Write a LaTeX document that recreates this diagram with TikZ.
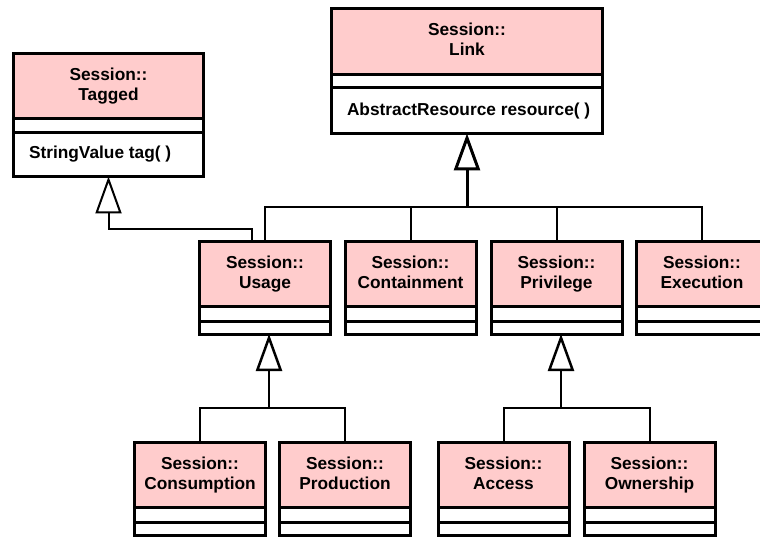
\documentclass[tikz,border=0pt]{standalone}
\usepackage{fontspec}
\setmainfont{Liberation Sans}
\usepackage{tikz}
\usetikzlibrary{arrows.meta,positioning}
\definecolor{classpink}{RGB}{255,204,204}

\begin{document}
\begin{tikzpicture}[x=1pt, y=-1pt, line width=3pt,
    classfont/.style={font=\fontsize{17.3}{20}\selectfont\bfseries},
    classname/.style={draw, fill=classpink, classfont, outer sep=0pt, inner sep=0pt, minimum width=131pt, minimum height=65pt, align=center},
    classpart/.style={draw, fill=white, classfont, outer sep=0pt, inner sep=0pt, minimum width=131pt},
    conn/.style={line width=2pt},
    gen/.style={line width=2.5pt, -{Triangle[open, length=37pt, width=26pt]}}]
    \useasboundingbox (0,0) rectangle (760,537);
    \clip (0,0) rectangle (760,537);

    % Classe Tagged
    \node[classname, minimum width=190pt] (tag) at (108.5,86.5) {\strut Session::\\\strut Tagged};
    \node[classpart, minimum width=190pt, minimum height=13.5pt, below=0pt of tag] (tagA) {};
    \node[classpart, minimum height=44pt, inner xsep=15.5pt, below=0pt of tagA] (tagO) {\makebox[159pt][l]{StringValue tag( )}};

    % Classe Link
    \node[classname, minimum width=271pt, minimum height=66.5pt] (link) at (467,41.75) {\strut Session::\\\strut Link};
    \node[classpart, minimum width=271pt, minimum height=13pt, below=0pt of link] (linkA) {};
    \node[classpart, minimum height=45.5pt, inner xsep=15.5pt, below=0pt of linkA] (linkO) {\makebox[240pt][l]{AbstractResource resource( )}};

    % Sottoclassi di Link
    \node[classname] (usage) at (265,274) {\strut Session::\\\strut Usage};
    \node[classpart, minimum height=14.5pt, below=0pt of usage] (usageA) {};
    \node[classpart, minimum height=13pt, below=0pt of usageA] (usageO) {};

    \node[classname] (cont) at (410.5,274) {\strut Session::\\\strut Containment};
    \node[classpart, minimum height=14.5pt, below=0pt of cont] (contA) {};
    \node[classpart, minimum height=13pt, below=0pt of contA] (contO) {};

    \node[classname] (priv) at (556.5,274) {\strut Session::\\\strut Privilege};
    \node[classpart, minimum height=14.5pt, below=0pt of priv] (privA) {};
    \node[classpart, minimum height=13pt, below=0pt of privA] (privO) {};

    \node[classname] (exec) at (702,274) {\strut Session::\\\strut Execution};
    \node[classpart, minimum height=14.5pt, below=0pt of exec] (execA) {};
    \node[classpart, minimum height=13pt, below=0pt of execA] (execO) {};

    % Sottoclassi di Usage
    \node[classname] (cons) at (200,475) {\strut Session::\\\strut Consumption};
    \node[classpart, minimum height=14.5pt, below=0pt of cons] (consA) {};
    \node[classpart, minimum height=13pt, below=0pt of consA] (consO) {};

    \node[classname] (prod) at (345,475) {\strut Session::\\\strut Production};
    \node[classpart, minimum height=14.5pt, below=0pt of prod] (prodA) {};
    \node[classpart, minimum height=13pt, below=0pt of prodA] (prodO) {};

    % Sottoclassi di Privilege
    \node[classname] (acc) at (503.5,475) {\strut Session::\\\strut Access};
    \node[classpart, minimum height=14.5pt, below=0pt of acc] (accA) {};
    \node[classpart, minimum height=13pt, below=0pt of accA] (accO) {};

    \node[classname] (own) at (649.5,475) {\strut Session::\\\strut Ownership};
    \node[classpart, minimum height=14.5pt, below=0pt of own] (ownA) {};
    \node[classpart, minimum height=13pt, below=0pt of ownA] (ownO) {};

    % Generalizzazione verso Link
    \coordinate (linkbus) at (467,207);
    \draw[conn] (usage.north) |- (linkbus) -| (exec.north);
    \draw[conn] (cont.north) -- (cont.north |- linkbus);
    \draw[conn] (priv.north) -- (priv.north |- linkbus);
    \draw[gen, line width=3pt] (linkbus) -- (linkO.south);

    % Generalizzazione verso Tagged
    \draw[gen, line width=2pt] ([xshift=-13pt]usage.north) -- ++(0,-12) -| (tagO.south);

    % Generalizzazione verso Usage
    \coordinate (usebus) at (269,408);
    \draw[conn] (cons.north) |- (usebus) -| (prod.north);
    \draw[gen] (usebus) -- (usebus |- usageO.south);

    % Generalizzazione verso Privilege
    \coordinate (privbus) at (561,408);
    \draw[conn] (acc.north) |- (privbus) -| (own.north);
    \draw[gen] (privbus) -- (privbus |- privO.south);
\end{tikzpicture}
\end{document}
